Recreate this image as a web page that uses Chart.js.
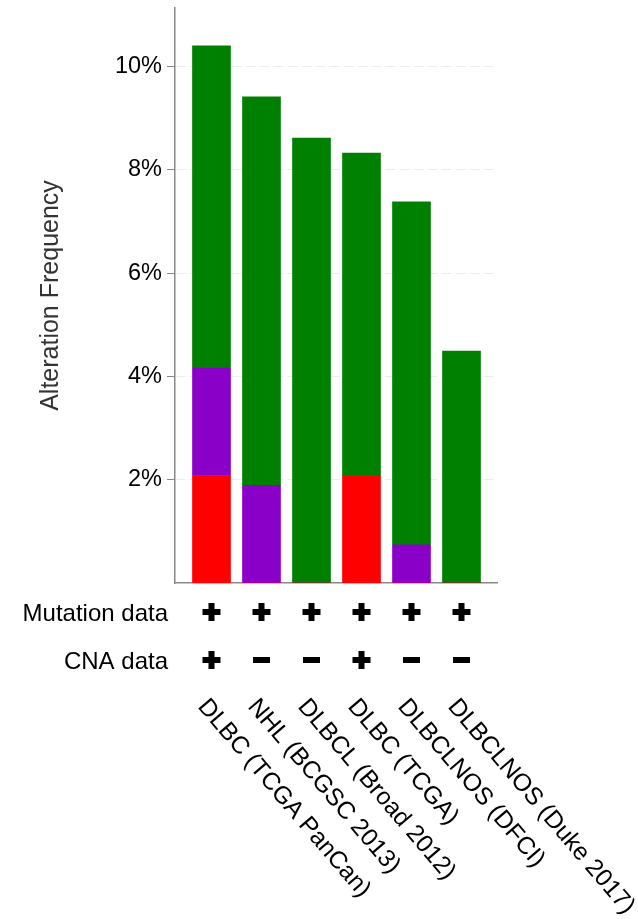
<!DOCTYPE html>
<html>
<head>
<meta charset="utf-8">
<script src="https://cdn.jsdelivr.net/npm/chart.js@4.4.0/dist/chart.umd.min.js"></script>
<style>
  html, body { margin: 0; padding: 0; background: #fff; }
  #wrap { width: 638px; height: 919px; }
</style>
</head>
<body>
<div id="wrap"><canvas id="altChart" width="638" height="919"></canvas></div>
<script>
// === Data ===
const studies = ['DLBC (TCGA PanCan)', 'NHL (BCGSC 2013)', 'DLBCL (Broad 2012)', 'DLBC (TCGA)', 'DLBCLNOS (DFCI)', 'DLBCLNOS (Duke 2017)'];
const amplification = [2.08, 0, 0, 2.08, 0, 0];
const structuralVariant = [2.08, 1.89, 0, 0, 0.74, 0];
const mutation = [6.24, 7.52, 8.61, 6.24, 6.64, 4.49];
const mutationProfiled = ['+', '+', '+', '+', '+', '+'];
const cnaProfiled = ['+', '-', '-', '+', '-', '-'];
const yTicks = [2, 4, 6, 8, 10];
const yMax = 11.13;

const FONT = '"Liberation Sans", Arial, Helvetica, sans-serif';

const toPoints = arr => arr.map((v, i) => ({ x: i, y: v }));

// + / - profile markers
function drawSign(ctx, cx, cy, sign) {
  ctx.fillStyle = '#000';
  if (sign === '+') {
    ctx.fillRect(cx - 9, cy - 3, 18, 6);
    ctx.fillRect(cx - 3, cy - 9, 6, 18);
  } else {
    ctx.fillRect(cx - 8.5, cy - 3, 17, 6);
  }
}

// rows under the bars + rotated study names
const footerPlugin = {
  id: 'footer',
  afterDraw(chart) {
    const { ctx, scales: { x } } = chart;
    ctx.save();
    ctx.fillStyle = '#000';
    ctx.font = '24px ' + FONT;
    ctx.textAlign = 'right';
    ctx.textBaseline = 'alphabetic';
    ctx.fillText('Mutation data', 168, 621);
    ctx.fillText('CNA data', 168, 669);

    studies.forEach((name, i) => {
      const cx = x.getPixelForValue(i);
      drawSign(ctx, cx, 612, mutationProfiled[i]);
      drawSign(ctx, cx, 660, cnaProfiled[i]);
      ctx.save();
      ctx.translate(cx - 14.5, 707);
      ctx.rotate(49.5 * Math.PI / 180);
      ctx.textAlign = 'left';
      ctx.fillStyle = '#000';
      ctx.font = '24.5px ' + FONT;
      ctx.fillText(name, 0, 0);
      ctx.restore();
    });
    ctx.restore();
  }
};

const ctx = document.getElementById('altChart').getContext('2d');
new Chart(ctx, {
  type: 'bar',
  data: {
    datasets: [
      { label: 'Amplification', data: toPoints(amplification), backgroundColor: '#ff0000' },
      { label: 'Structural Variant', data: toPoints(structuralVariant), backgroundColor: '#8b00c9' },
      { label: 'Mutation', data: toPoints(mutation), backgroundColor: '#008000' }
    ]
  },
  options: {
    responsive: false,
    animation: false,
    layout: { padding: { top: 8, right: 141, bottom: 0, left: 0 } },
    datasets: { bar: { barThickness: 38, borderWidth: 0 } },
    plugins: { legend: { display: false }, tooltip: { enabled: false } },
    scales: {
      x: {
        type: 'linear',
        stacked: true,
        offset: false,
        min: -0.73,
        max: 5.71,
        grid: { display: false, offset: false },
        ticks: { display: false },
        border: { display: true, color: '#888', width: 1.5 },
        afterFit: s => { s.height = 336; s.paddingLeft = 0; s.paddingRight = 0; }
      },
      y: {
        stacked: true,
        min: 0,
        max: yMax,
        afterBuildTicks: s => { s.ticks = yTicks.map(v => ({ value: v })); },
        ticks: {
          color: '#000',
          padding: 5,
          font: { family: FONT, size: 23.5 },
          callback: v => v + '%'
        },
        grid: {
          color: '#ececec',
          tickColor: '#888',
          tickWidth: 1,
          tickLength: 8,
          tickBorderDash: []
        },
        border: { display: true, color: '#888', width: 1.5, dash: [10, 4] },
        title: {
          display: true,
          text: 'Alteration Frequency',
          color: '#333',
          font: { family: FONT, size: 25 },
          padding: { top: 36, bottom: 0 }
        },
        afterFit: s => { s.width = 175; s.paddingTop = 0; s.paddingBottom = 0; }
      }
    }
  },
  plugins: [footerPlugin]
});
</script>
</body>
</html>
